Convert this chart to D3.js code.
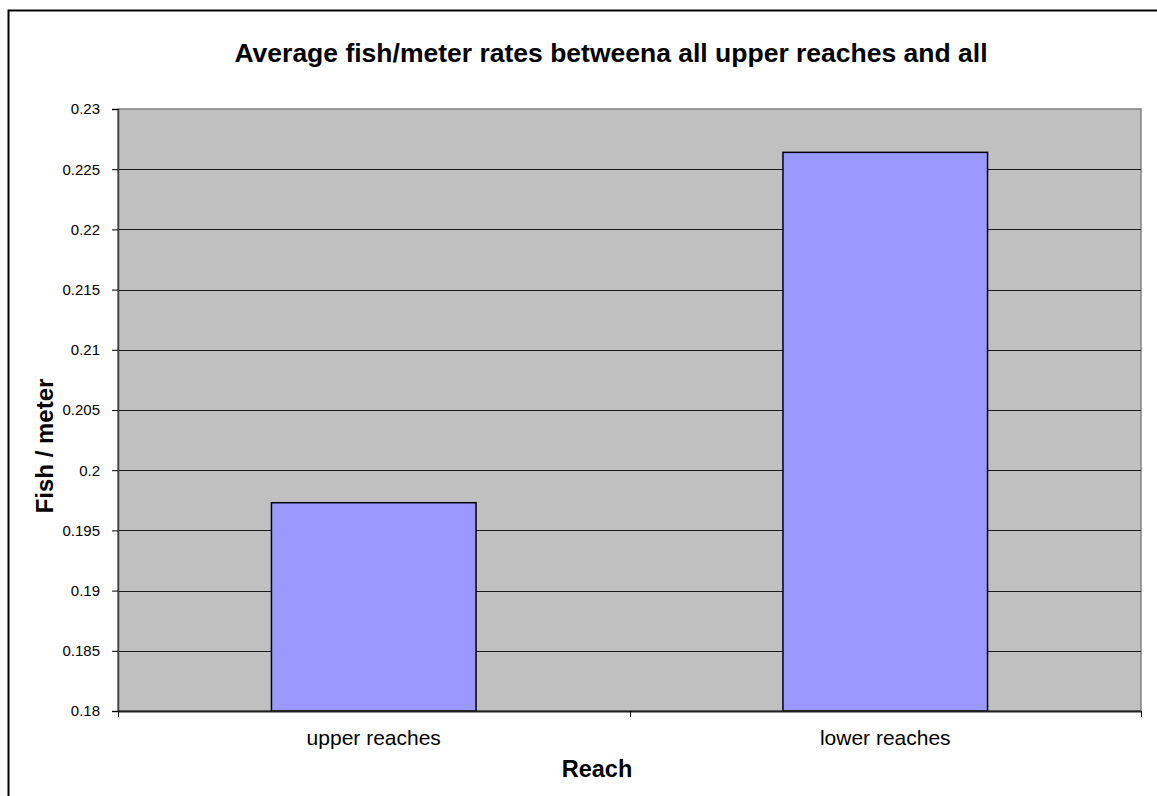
<!DOCTYPE html>
<html>
<head>
<meta charset="utf-8">
<script src="https://cdn.jsdelivr.net/npm/d3@7"></script>
<style>
  html, body { margin: 0; padding: 0; background: #fff; }
  svg { display: block; }
  text { font-family: Arial, "Liberation Sans", sans-serif; fill: #000; }
</style>
</head>
<body>
<script>
const categories = ["upper reaches", "lower reaches"];
const values = [0.1973, 0.2264];
const yTicks = [0.18, 0.185, 0.19, 0.195, 0.2, 0.205, 0.21, 0.215, 0.22, 0.225, 0.23];
const yTickLabels = ["0.18", "0.185", "0.19", "0.195", "0.2", "0.205", "0.21", "0.215", "0.22", "0.225", "0.23"];
const titleText = "Average fish/meter rates betweena all upper reaches and all";
const xTitle = "Reach";
const yTitle = "Fish / meter";

const W = 1157, H = 796;
const plot = { left: 118, top: 109, right: 1141, bottom: 711 };

const svg = d3.select("body").append("svg").attr("width", W).attr("height", H);

// outer chart border (extends past the picture on the right and bottom)
svg.append("rect")
  .attr("x", 8.5).attr("y", 10.5)
  .attr("width", W + 20).attr("height", H + 20)
  .attr("fill", "#fff").attr("stroke", "#000").attr("stroke-width", 2);

const x = d3.scaleBand().domain(categories).range([plot.left, plot.right])
  .paddingInner(0.6).paddingOuter(0.3);
const y = d3.scaleLinear().domain([0.18, 0.23]).range([plot.bottom, plot.top]);

// plot background
svg.append("rect")
  .attr("x", plot.left).attr("y", plot.top)
  .attr("width", plot.right - plot.left).attr("height", plot.bottom - plot.top)
  .attr("fill", "#c0c0c0").attr("stroke", "#808080").attr("stroke-width", 1.5);

// gridlines
svg.append("g").selectAll("line").data(yTicks.slice(1, -1)).join("line")
  .attr("x1", plot.left).attr("x2", plot.right)
  .attr("y1", d => Math.round(y(d)) + 0.5).attr("y2", d => Math.round(y(d)) + 0.5)
  .attr("stroke", "#1a1a1a").attr("stroke-width", 1);

// bars
svg.append("g").selectAll("rect").data(values).join("rect")
  .attr("x", (d, i) => x(categories[i]))
  .attr("y", d => y(d))
  .attr("width", x.bandwidth())
  .attr("height", d => plot.bottom - y(d))
  .attr("fill", "#9999ff").attr("stroke", "#000").attr("stroke-width", 1.5);

// y axis
const yAxis = d3.axisLeft(y).tickValues(yTicks)
  .tickFormat((d, i) => yTickLabels[i]).tickSize(6).tickPadding(12);
const gy = svg.append("g").attr("transform", `translate(${plot.left},0)`).call(yAxis);
gy.select(".domain").attr("stroke", "#404040").attr("stroke-width", 1.5);
gy.selectAll(".tick line").attr("stroke", "#000");
gy.selectAll(".tick text").attr("font-size", 15).attr("font-family", "Arial, 'Liberation Sans', sans-serif");

// x axis
const xb = d3.scaleLinear().domain([0, categories.length]).range([plot.left, plot.right]);
const gx = svg.append("g").attr("transform", `translate(0,${plot.bottom})`);
gx.append("line").attr("x1", plot.left).attr("x2", plot.right).attr("y1", 0.5).attr("y2", 0.5)
  .attr("stroke", "#202020").attr("stroke-width", 2);
gx.selectAll("line.tk").data(d3.range(categories.length + 1)).join("line").attr("class", "tk")
  .attr("x1", d => Math.round(xb(d)) + 0.5).attr("x2", d => Math.round(xb(d)) + 0.5)
  .attr("y1", 0).attr("y2", 6).attr("stroke", "#000");
gx.selectAll("text").data(categories).join("text")
  .attr("x", d => x(d) + x.bandwidth() / 2)
  .attr("y", 34)
  .attr("text-anchor", "middle")
  .attr("font-size", 21)
  .text(d => d);

// titles
svg.append("text").attr("x", 611).attr("y", 62).attr("text-anchor", "middle")
  .attr("font-size", 26.5).attr("font-weight", "bold").text(titleText);
svg.append("text").attr("x", 597).attr("y", 777).attr("text-anchor", "middle")
  .attr("font-size", 23.5).attr("font-weight", "bold").text(xTitle);
svg.append("text").attr("transform", "translate(53,446) rotate(-90)").attr("text-anchor", "middle")
  .attr("font-size", 24).attr("font-weight", "bold").text(yTitle);
</script>
</body>
</html>
